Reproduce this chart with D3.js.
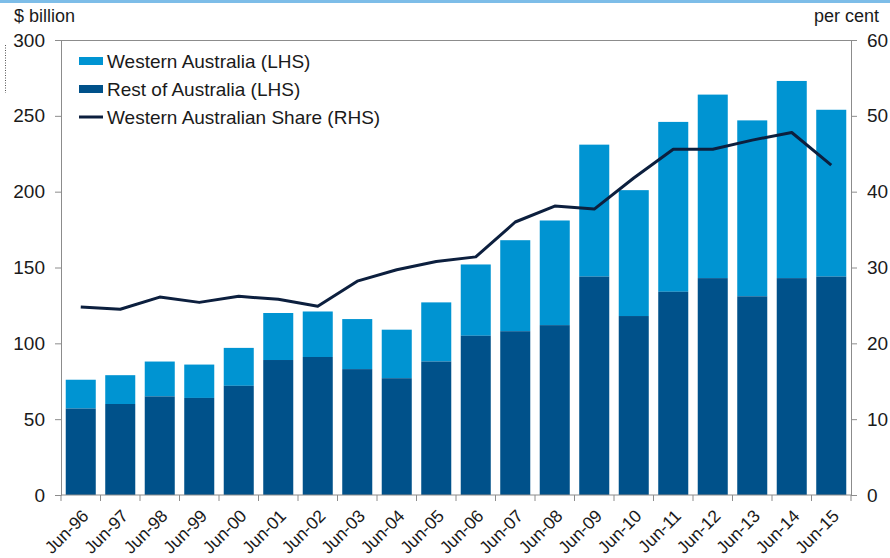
<!DOCTYPE html>
<html>
<head>
<meta charset="utf-8">
<script src="https://cdn.jsdelivr.net/npm/d3@7"></script>
<style>
  body { margin: 0; background: #fff; }
  svg { display: block; font-family: "Liberation Sans", Arial, sans-serif; }
</style>
</head>
<body>
<div id="chart"></div>
<script>
// Valores
const years = ["Jun-96", "Jun-97", "Jun-98", "Jun-99", "Jun-00", "Jun-01", "Jun-02", "Jun-03", "Jun-04", "Jun-05",
  "Jun-06", "Jun-07", "Jun-08", "Jun-09", "Jun-10", "Jun-11", "Jun-12", "Jun-13", "Jun-14", "Jun-15"];
const restOfAustralia = [57, 60, 65, 64, 72, 89, 91, 83, 77, 88, 105, 108, 112, 144, 118, 134, 143, 131, 143, 144];
const totalValues = [76, 79, 88, 86, 97, 120, 121, 116, 109, 127, 152, 168, 181, 231, 201, 246, 264, 247, 273, 254];
const waShare = [24.8, 24.5, 26.1, 25.4, 26.2, 25.8, 24.9, 28.2, 29.7, 30.8, 31.4, 36.0, 38.1, 37.7, 41.8, 45.6, 45.6, 46.8, 47.8, 43.5];
const leftTicks = [0, 50, 100, 150, 200, 250, 300];
const rightTicks = [0, 10, 20, 30, 40, 50, 60];

const width = 890;
const height = 558;
const margin = { top: 40, right: 39, bottom: 63, left: 61 };

const colorWA = "#0094d2";
const colorRest = "#00518a";
const colorLine = "#0c1f3e";
const axisColor = "#8c8c8c";

const svg = d3.select("#chart")
  .append("svg")
  .attr("width", width)
  .attr("height", height);

// faixa azul no topo
svg.append("rect")
  .attr("x", 0).attr("y", 0)
  .attr("width", width).attr("height", 3)
  .style("fill", "#7dbde8");

// linha pontilhada à esquerda
svg.append("line")
  .attr("x1", 5.5).attr("x2", 5.5)
  .attr("y1", 45).attr("y2", 93)
  .style("stroke", "#555")
  .style("stroke-dasharray", "1,1.5");

const x = d3.scaleBand()
  .domain(years)
  .range([margin.left, width - margin.right])
  .paddingInner(0.24)
  .paddingOuter(0.12);

const yLeft = d3.scaleLinear()
  .domain([0, 300])
  .range([height - margin.bottom, margin.top]);

const yRight = d3.scaleLinear()
  .domain([0, 60])
  .range([height - margin.bottom, margin.top]);

const data = years.map((d, i) => ({
  year: d,
  rest: restOfAustralia[i],
  total: totalValues[i],
  share: waShare[i]
}));

// barras empilhadas
svg.selectAll(".wa")
  .data(data)
  .enter().append("rect")
  .attr("class", "wa")
  .attr("x", d => x(d.year))
  .attr("width", x.bandwidth())
  .attr("y", d => yLeft(d.total))
  .attr("height", d => yLeft(d.rest) - yLeft(d.total))
  .style("fill", colorWA);

svg.selectAll(".rest")
  .data(data)
  .enter().append("rect")
  .attr("class", "rest")
  .attr("x", d => x(d.year))
  .attr("width", x.bandwidth())
  .attr("y", d => yLeft(d.rest))
  .attr("height", d => yLeft(0) - yLeft(d.rest))
  .style("fill", colorRest);

// linha da participação
const line = d3.line()
  .x(d => x(d.year) + x.bandwidth() / 2)
  .y(d => yRight(d.share));

svg.append("path")
  .datum(data)
  .attr("d", line)
  .style("fill", "none")
  .style("stroke", colorLine)
  .style("stroke-width", 3)
  .style("stroke-linejoin", "round");

// borda superior
svg.append("line")
  .attr("x1", margin.left).attr("x2", width - margin.right)
  .attr("y1", margin.top + 0.5).attr("y2", margin.top + 0.5)
  .style("stroke", axisColor);

// eixos
const leftAxis = svg.append("g")
  .attr("transform", `translate(${margin.left},0)`)
  .call(d3.axisLeft(yLeft).tickValues(leftTicks).tickSize(6).tickPadding(10));

const rightAxis = svg.append("g")
  .attr("transform", `translate(${width - margin.right},0)`)
  .call(d3.axisRight(yRight).tickValues(rightTicks).tickSize(6).tickPadding(10));

const tickPos = years.map(d => x(d) - x.step() * x.paddingInner() / 2).concat([width - margin.right]);
const bottomAxis = svg.append("g")
  .attr("transform", `translate(0,${height - margin.bottom})`);
bottomAxis.append("line")
  .attr("x1", margin.left).attr("x2", width - margin.right)
  .style("stroke", axisColor);
bottomAxis.selectAll(".xtick")
  .data(tickPos)
  .enter().append("line")
  .attr("x1", d => d).attr("x2", d => d)
  .attr("y1", 0).attr("y2", 6)
  .style("stroke", axisColor);
bottomAxis.selectAll(".xlabel")
  .data(years)
  .enter().append("text")
  .attr("transform", d => `translate(${x(d) + x.bandwidth() / 2 + 9},${22}) rotate(-45)`)
  .attr("text-anchor", "end")
  .style("font-size", "17.5px")
  .style("fill", "#1a1a1a")
  .text(d => d);

[leftAxis, rightAxis].forEach(g => {
  g.select(".domain").style("stroke", axisColor);
  g.selectAll(".tick line").style("stroke", axisColor);
  g.selectAll(".tick text")
    .style("font-size", "19px")
    .style("font-family", "Liberation Sans, Arial, sans-serif")
    .style("fill", "#1a1a1a");
});

// títulos dos eixos
svg.append("text")
  .attr("x", 14).attr("y", 22)
  .style("font-size", "18px")
  .style("fill", "#1a1a1a")
  .text("$ billion");

svg.append("text")
  .attr("x", 879).attr("y", 22)
  .attr("text-anchor", "end")
  .style("font-size", "18px")
  .style("fill", "#1a1a1a")
  .text("per cent");

// legenda
const legendItems = [
  { label: "Western Australia (LHS)", type: "rect", color: colorWA },
  { label: "Rest of Australia (LHS)", type: "rect", color: colorRest },
  { label: "Western Australian Share (RHS)", type: "line", color: colorLine }
];

const legend = svg.selectAll(".legend")
  .data(legendItems)
  .enter().append("g")
  .attr("class", "legend")
  .attr("transform", (d, i) => `translate(79,${61 + i * 28})`);

legend.filter(d => d.type === "rect").append("rect")
  .attr("x", 0).attr("y", -4)
  .attr("width", 24).attr("height", 8)
  .style("fill", d => d.color);

legend.filter(d => d.type === "line").append("line")
  .attr("x1", 0).attr("x2", 24)
  .attr("y1", 0).attr("y2", 0)
  .style("stroke", d => d.color)
  .style("stroke-width", 3);

legend.append("text")
  .attr("x", 28).attr("y", 7)
  .style("font-size", "19px")
  .style("fill", "#1a1a1a")
  .text(d => d.label);
</script>
</body>
</html>
